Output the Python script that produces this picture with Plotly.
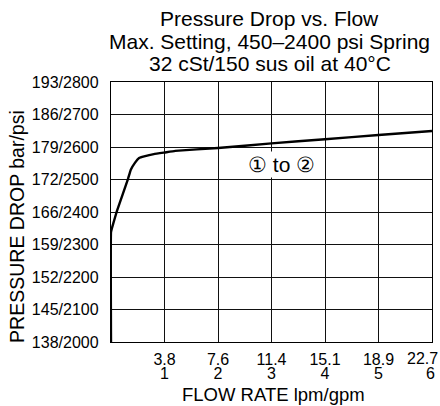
import plotly.graph_objects as go

# Data (flow in gpm, pressure in psi)
flow_gpm = [0, 0, 0.02, 0.043, 0.107, 0.22, 0.32, 0.37, 0.45, 0.525, 0.62, 0.8, 1.0, 1.2, 2.0, 3.0, 4.0, 5.0, 6.0]
pressure_psi = [2000, 2338, 2352, 2365, 2401, 2455, 2503, 2530, 2552, 2566, 2571, 2578, 2583, 2588, 2597, 2611, 2624, 2637, 2649]

x_tickvals = [1, 2, 3, 4, 5, 6]
x_lpm = ["3.8", "7.6", "11.4", "15.1", "18.9", "22.7"]
x_gpm = ["1", "2", "3", "4", "5", "6"]

y_tickvals = [2000, 2100, 2200, 2300, 2400, 2500, 2600, 2700, 2800]
y_bar = ["138", "145", "152", "159", "166", "172", "179", "186", "193"]

title_lines = ["Pressure Drop vs. Flow", "Max. Setting, 450\u20132400 psi Spring", "32 cSt/150 sus oil at 40\u00b0C"]
title_ypos = [1.246, 1.154, 1.073]
x_title = "FLOW RATE lpm/gpm"
y_title = "PRESSURE DROP bar/psi"
label_text = "\u2460 to \u2461"

font_family = "Liberation Sans, Arial, Helvetica, sans-serif"

fig = go.Figure()
fig.add_trace(go.Scatter(x=flow_gpm, y=pressure_psi, mode="lines",
                         line=dict(color="black", width=2.4, shape="spline", smoothing=0.3),
                         hoverinfo="skip", showlegend=False))
# invisible trace to carry the second (gpm) x axis
fig.add_trace(go.Scatter(x=[0, 6], y=[2000, 2000], xaxis="x2", mode="lines",
                         line=dict(width=0), opacity=0, hoverinfo="skip", showlegend=False))

fig.update_layout(
    width=440, height=406,
    margin=dict(l=111, r=8, t=82, b=64),
    paper_bgcolor="white", plot_bgcolor="white",
    font=dict(family=font_family, color="black", size=15),
    showlegend=False,
    xaxis=dict(
        range=[0, 6], tickvals=x_tickvals[:-1], ticktext=x_lpm[:-1],
        showgrid=True, gridcolor="#111", gridwidth=1,
        showline=True, linecolor="black", linewidth=1.4, mirror=True,
        ticks="", zeroline=False, automargin=False,
        ticklabelstandoff=3,
        tickfont=dict(size=16, family=font_family),
    ),
    xaxis2=dict(
        range=[0, 6], tickvals=x_tickvals[:-1], ticktext=x_gpm[:-1],
        overlaying="x", side="bottom", anchor="y",
        showgrid=False, showline=False, ticks="", zeroline=False, automargin=False,
        ticklabelstandoff=20,
        tickfont=dict(size=16, family=font_family),
    ),
    yaxis=dict(
        range=[2000, 2800], tickvals=y_tickvals,
        ticktext=[f"{b}/{p}" for b, p in zip(y_bar, y_tickvals)],
        showgrid=True, gridcolor="#111", gridwidth=1,
        showline=True, linecolor="black", linewidth=1.4, mirror=True,
        ticks="", zeroline=False, automargin=False, ticklabelstandoff=8,
        tickfont=dict(size=16, family=font_family),
    ),
)

# last x tick pair (sits at the right edge, nudged inward as in the original)
fig.add_annotation(x=x_tickvals[-1], xref="x", yref="paper", y=-0.062, text=x_lpm[-1],
                   showarrow=False, xanchor="right", yanchor="middle", xshift=8,
                   font=dict(size=16, family=font_family, color="black"))
fig.add_annotation(x=x_tickvals[-1], xref="x", yref="paper", y=-0.12, text=x_gpm[-1],
                   showarrow=False, xanchor="center", yanchor="middle", xshift=-2,
                   font=dict(size=16, family=font_family, color="black"))

for line, ypos in zip(title_lines, title_ypos):
    fig.add_annotation(xref="paper", yref="paper", x=0.495, y=ypos, text=line,
                       showarrow=False, xanchor="center", yanchor="middle",
                       font=dict(size=21, family=font_family, color="black"))

fig.add_annotation(xref="paper", yref="paper", x=0.505, y=-0.2, text=x_title,
                   showarrow=False, xanchor="center", yanchor="middle",
                   font=dict(size=18.5, family=font_family, color="black"))
fig.add_annotation(xref="paper", yref="paper", x=-0.291, y=0.445, text=y_title,
                   textangle=-90, showarrow=False, xanchor="center", yanchor="middle",
                   font=dict(size=19.5, family=font_family, color="black"))

fig.add_annotation(x=3.18, y=2547, text=label_text, showarrow=False,
                   font=dict(size=21, family=font_family, color="black"),
                   bgcolor="white", borderpad=1)

fig.write_html("out.html", config={"displayModeBar": False},
               post_script="document.body.style.margin='0';")
